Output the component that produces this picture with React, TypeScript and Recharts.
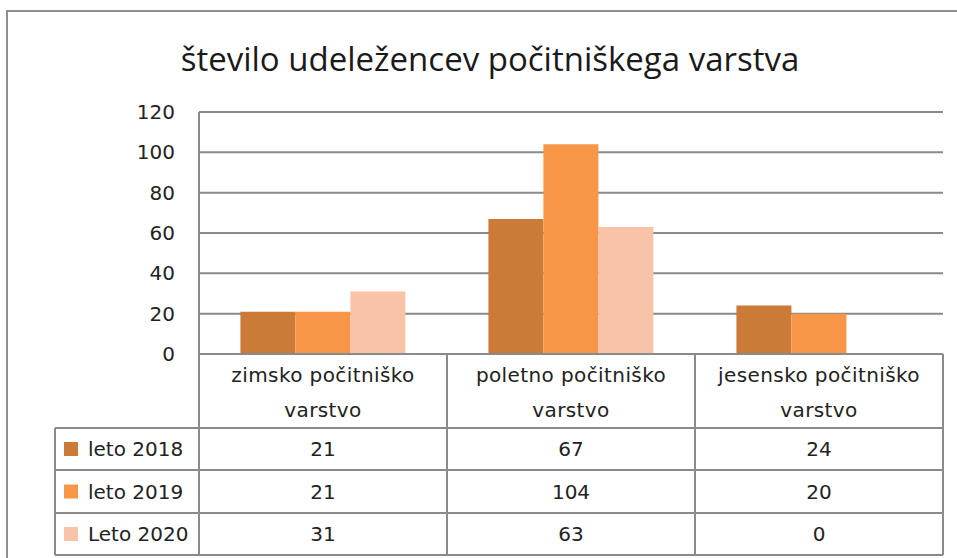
import React from 'react';
import { Bar, BarChart, CartesianGrid, XAxis, YAxis } from 'recharts';

document.body.style.margin = '0';

const categories = ['zimsko počitniško varstvo', 'poletno počitniško varstvo', 'jesensko počitniško varstvo'];
const categoryLines = [
  ['zimsko počitniško', 'varstvo'],
  ['poletno počitniško', 'varstvo'],
  ['jesensko počitniško', 'varstvo'],
];
const seriesNames = ['leto 2018', 'leto 2019', 'Leto 2020'];
const leto2018 = [21, 67, 24];
const leto2019 = [21, 104, 20];
const leto2020 = [31, 63, 0];
const yTicks = [0, 20, 40, 60, 80, 100, 120];

const seriesValues = [leto2018, leto2019, leto2020];
const colors = ['#CB7A38', '#F79646', '#F9C3A8'];

const data = categories.map((cat, i) => ({
  cat,
  s2018: leto2018[i],
  s2019: leto2019[i],
  s2020: leto2020[i],
}));

const W = 957;
const H = 558;
const LEFT = 199;
const RIGHT = 14;
const TOP = 112;
const BOTTOM = 204;
const COL_W = (W - LEFT - RIGHT) / categories.length;
const LEGEND_W = 144;
const LINE = '#8a8a8a';
const TEXT = '#222';
const FONT = '"DejaVu Sans", Verdana, sans-serif';

// row edges below the axis line
const HEADER_H = 74;
const ROW_EDGES = [74, 116, 159, 201];

const TableColumn = (props: any) => {
  const { x, y, payload } = props;
  const i = payload.index;
  const l = x - COL_W / 2;
  const r = x + COL_W / 2;
  const bottom = y + ROW_EDGES[ROW_EDGES.length - 1];
  const txt = { fontFamily: FONT, fontSize: 20, fill: TEXT } as const;

  return (
    <g>
      <line x1={r} y1={y} x2={r} y2={bottom} stroke={LINE} strokeWidth={2} />
      {i === 0 && <line x1={l} y1={y} x2={l} y2={bottom} stroke={LINE} strokeWidth={2} />}
      {ROW_EDGES.map((e) => (
        <line key={e} x1={l} y1={y + e} x2={r} y2={y + e} stroke={LINE} strokeWidth={2} />
      ))}
      {categoryLines[i].map((t, k) => (
        <text
          key={k}
          x={x}
          y={y + 21 + k * 35}
          textAnchor="middle"
          dominantBaseline="central"
          letterSpacing={0.4}
          {...txt}
        >
          {t}
        </text>
      ))}
      {seriesValues.map((vals, s) => (
        <text
          key={s}
          x={x}
          y={y + (ROW_EDGES[s] + ROW_EDGES[s + 1]) / 2}
          textAnchor="middle"
          dominantBaseline="central"
          {...txt}
        >
          {vals[i]}
        </text>
      ))}
      {i === 0 && (
        <g>
          <line x1={l - LEGEND_W} y1={y + HEADER_H} x2={l - LEGEND_W} y2={bottom} stroke={LINE} strokeWidth={2} />
          {ROW_EDGES.map((e) => (
            <line key={e} x1={l - LEGEND_W} y1={y + e} x2={l} y2={y + e} stroke={LINE} strokeWidth={2} />
          ))}
          {seriesNames.map((n, s) => {
            const cy = y + (ROW_EDGES[s] + ROW_EDGES[s + 1]) / 2;
            return (
              <g key={n}>
                <rect x={l - LEGEND_W + 9} y={cy - 7} width={14} height={14} fill={colors[s]} />
                <text x={l - LEGEND_W + 33} y={cy} dominantBaseline="central" {...txt}>
                  {n}
                </text>
              </g>
            );
          })}
        </g>
      )}
    </g>
  );
};

export default function App() {
  return (
    <div style={{ position: 'relative', width: W, height: H, overflow: 'hidden', background: '#fff' }}>
      <div
        style={{
          position: 'absolute',
          left: 6,
          top: 10,
          width: W + 20,
          height: H + 20,
          border: '2px solid #8f8f8f',
        }}
      />
      <div
        style={{
          position: 'absolute',
          left: 0,
          top: 36,
          width: 980,
          textAlign: 'center',
          fontFamily: '"Liberation Sans Narrow", "Open Sans", sans-serif',
          fontSize: 33,
          color: '#1a1a1a',
          whiteSpace: 'nowrap',
        }}
      >
        število udeležencev počitniškega varstva
      </div>
      <div style={{ position: 'absolute', left: 0, top: 0 }}>
        <BarChart
          width={W}
          height={H}
          data={data}
          margin={{ top: TOP, right: RIGHT, bottom: 0, left: 0 }}
          barCategoryGap="16.7%"
          barGap={0}
        >
          <CartesianGrid vertical={false} stroke={LINE} strokeWidth={2} />
          <XAxis
            dataKey="cat"
            height={BOTTOM}
            interval={0}
            tickLine={false}
            tickSize={0}
            tickMargin={0}
            axisLine={{ stroke: LINE, strokeWidth: 2 }}
            tick={<TableColumn />}
          />
          <YAxis
            width={LEFT}
            domain={[0, 120]}
            ticks={yTicks}
            interval={0}
            tickLine={false}
            tickSize={0}
            tickMargin={24}
            axisLine={{ stroke: LINE, strokeWidth: 2 }}
            tick={{ fontFamily: FONT, fontSize: 20, fill: TEXT }}
          />
          <Bar dataKey="s2018" name={seriesNames[0]} fill={colors[0]} isAnimationActive={false} />
          <Bar dataKey="s2019" name={seriesNames[1]} fill={colors[1]} isAnimationActive={false} />
          <Bar dataKey="s2020" name={seriesNames[2]} fill={colors[2]} isAnimationActive={false} />
        </BarChart>
      </div>
    </div>
  );
}
